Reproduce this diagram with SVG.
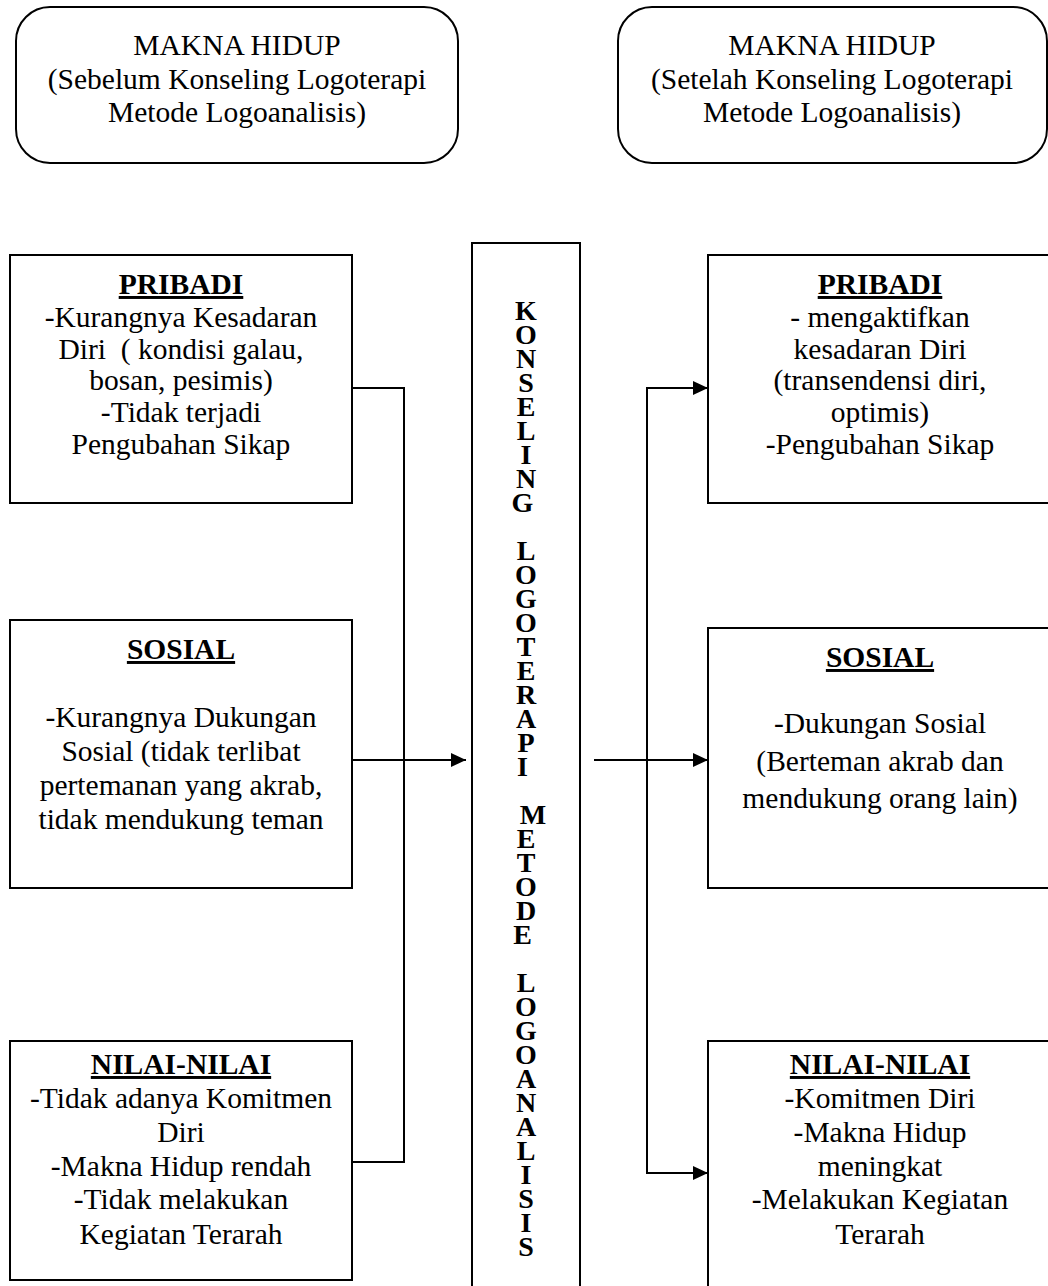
<svg xmlns="http://www.w3.org/2000/svg" width="1048" height="1286" viewBox="0 0 1048 1286">
<style>
.box{fill:#fff;stroke:#000;stroke-width:2}
.t{font-family:"Liberation Serif","Times New Roman",serif;font-size:29.5px;fill:#000;text-anchor:middle}
.h{font-weight:bold;text-decoration:underline}
.v{font-family:"Liberation Serif","Times New Roman",serif;font-size:28px;font-weight:bold;fill:#000;text-anchor:middle}
.c{fill:none;stroke:#000;stroke-width:2}
</style>
<defs>
<marker id="ah" markerWidth="16" markerHeight="16" refX="15" refY="8" orient="auto" markerUnits="userSpaceOnUse">
<path d="M0,1 L15,8 L0,15 Z" fill="#000"/>
</marker>
</defs>
<rect width="1048" height="1286" fill="#fff"/>
<g id="top-before">
<rect class="box" x="16" y="7" width="442" height="156" rx="34"/>
<text class="t" x="237" y="55">MAKNA HIDUP</text>
<text class="t" x="237" y="89">(Sebelum Konseling Logoterapi</text>
<text class="t" x="237" y="122">Metode Logoanalisis)</text>
</g>
<g id="top-after">
<rect class="box" x="618" y="7" width="429" height="156" rx="34"/>
<text class="t" x="832" y="55">MAKNA HIDUP</text>
<text class="t" x="832" y="89">(Setelah Konseling Logoterapi</text>
<text class="t" x="832" y="122">Metode Logoanalisis)</text>
</g>
<g id="left-pribadi">
<rect class="box" x="10" y="255" width="342" height="248"/>
<text class="t h" x="181" y="294">PRIBADI</text>
<text class="t" x="181" y="327">-Kurangnya Kesadaran</text>
<text class="t" x="181" y="359">Diri&#160; ( kondisi galau,</text>
<text class="t" x="181" y="390">bosan, pesimis)</text>
<text class="t" x="181" y="422">-Tidak terjadi</text>
<text class="t" x="181" y="454">Pengubahan Sikap</text>
</g>
<g id="left-sosial">
<rect class="box" x="10" y="620" width="342" height="268"/>
<text class="t h" x="181" y="659">SOSIAL</text>
<text class="t" x="181" y="727">-Kurangnya Dukungan</text>
<text class="t" x="181" y="761">Sosial (tidak terlibat</text>
<text class="t" x="181" y="795">pertemanan yang akrab,</text>
<text class="t" x="181" y="829">tidak mendukung teman</text>
</g>
<g id="left-nilai">
<rect class="box" x="10" y="1041" width="342" height="239"/>
<text class="t h" x="181" y="1074">NILAI-NILAI</text>
<text class="t" x="181" y="1108">-Tidak adanya Komitmen</text>
<text class="t" x="181" y="1142">Diri</text>
<text class="t" x="181" y="1176">-Makna Hidup rendah</text>
<text class="t" x="181" y="1209">-Tidak melakukan</text>
<text class="t" x="181" y="1244">Kegiatan Terarah</text>
</g>
<g id="center">
<rect class="box" x="472" y="243" width="108" height="1060"/>
<text class="v">
<tspan x="526" y="320">K</tspan><tspan x="526" y="344">O</tspan><tspan x="526" y="368">N</tspan><tspan x="526" y="392">S</tspan><tspan x="526" y="416">E</tspan><tspan x="526" y="440">L</tspan><tspan x="526" y="464">I</tspan><tspan x="526" y="488">N</tspan><tspan x="526" y="512">G</tspan>
<tspan x="526" y="560">L</tspan><tspan x="526" y="584">O</tspan><tspan x="526" y="608">G</tspan><tspan x="526" y="632">O</tspan><tspan x="526" y="656">T</tspan><tspan x="526" y="680">E</tspan><tspan x="526" y="704">R</tspan><tspan x="526" y="728">A</tspan><tspan x="526" y="752">P</tspan><tspan x="526" y="776">I</tspan>
<tspan x="533" y="824">M</tspan><tspan x="526" y="848">E</tspan><tspan x="526" y="872">T</tspan><tspan x="526" y="896">O</tspan><tspan x="526" y="920">D</tspan><tspan x="526" y="944">E</tspan>
<tspan x="526" y="992">L</tspan><tspan x="526" y="1016">O</tspan><tspan x="526" y="1040">G</tspan><tspan x="526" y="1064">O</tspan><tspan x="526" y="1088">A</tspan><tspan x="526" y="1112">N</tspan><tspan x="526" y="1136">A</tspan><tspan x="526" y="1160">L</tspan><tspan x="526" y="1184">I</tspan><tspan x="526" y="1208">S</tspan><tspan x="526" y="1232">I</tspan><tspan x="526" y="1256">S</tspan>
</text>
</g>
<g id="right-pribadi">
<rect class="box" x="708" y="255" width="345" height="248"/>
<text class="t h" x="880" y="294">PRIBADI</text>
<text class="t" x="880" y="327">- mengaktifkan</text>
<text class="t" x="880" y="359">kesadaran Diri</text>
<text class="t" x="880" y="390">(transendensi diri,</text>
<text class="t" x="880" y="422">optimis)</text>
<text class="t" x="880" y="454">-Pengubahan Sikap</text>
</g>
<g id="right-sosial">
<rect class="box" x="708" y="628" width="345" height="260"/>
<text class="t h" x="880" y="667">SOSIAL</text>
<text class="t" x="880" y="733">-Dukungan Sosial</text>
<text class="t" x="880" y="771">(Berteman akrab dan</text>
<text class="t" x="880" y="808">mendukung orang lain)</text>
</g>
<g id="right-nilai">
<rect class="box" x="708" y="1041" width="345" height="260"/>
<text class="t h" x="880" y="1074">NILAI-NILAI</text>
<text class="t" x="880" y="1108">-Komitmen Diri</text>
<text class="t" x="880" y="1142">-Makna Hidup</text>
<text class="t" x="880" y="1176">meningkat</text>
<text class="t" x="880" y="1209">-Melakukan Kegiatan</text>
<text class="t" x="880" y="1244">Terarah</text>
</g>
<g id="connectors">
<polyline class="c" points="352,388 404,388 404,1162 352,1162"/>
<line class="c" x1="352" y1="760" x2="466" y2="760" marker-end="url(#ah)"/>
<line class="c" x1="594" y1="760" x2="708" y2="760" marker-end="url(#ah)"/>
<line class="c" x1="647" y1="387" x2="647" y2="1174"/>
<line class="c" x1="646" y1="388" x2="708" y2="388" marker-end="url(#ah)"/>
<line class="c" x1="646" y1="1173" x2="708" y2="1173" marker-end="url(#ah)"/>
</g>
</svg>
